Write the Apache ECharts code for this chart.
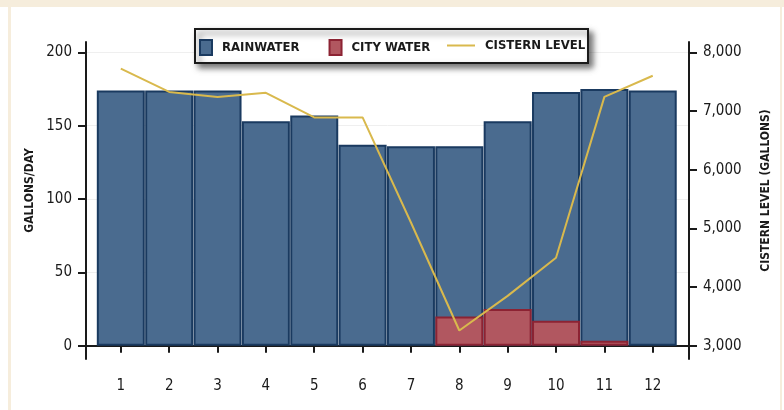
<!DOCTYPE html>
<html><head><meta charset="utf-8">
<script src="https://cdn.jsdelivr.net/npm/echarts@6/dist/echarts.min.js"></script>
<style>html,body{margin:0;padding:0;background:#fff}#c{width:784px;height:410px}</style>
</head><body><div id="c"></div>
<script>
const months = [1, 2, 3, 4, 5, 6, 7, 8, 9, 10, 11, 12];
const rainwater = [174, 174, 174, 153, 157, 137, 136, 136, 153, 173, 175, 174];
const cityWater = [null, null, null, null, null, null, null, 20, 25, 17, 3.5, null];
const cisternLevel = [7720, 7325, 7240, 7310, 6890, 6890, 5100, 3260, 3850, 4500, 7240, 7600];
const leftTicks = [0, 50, 100, 150, 200];
const rightTicks = [3000, 4000, 5000, 6000, 7000, 8000];

const F = '"DejaVu Sans Condensed", "Liberation Sans Narrow", sans-serif';
const ink = '#1a1a1a';
const chart = echarts.init(document.getElementById('c'), null, {renderer: 'canvas'});
const frame = '#f6eddc';

const option = {
  animation: false,
  backgroundColor: '#ffffff',
  grid: {left: 86, right: 95, top: 42, bottom: 51, containLabel: false},
  graphic: [
    {type: 'rect', z: 0, shape: {x: 0, y: 0, width: 784, height: 7}, style: {fill: frame}},
    {type: 'rect', z: 0, shape: {x: 8, y: 7, width: 3, height: 403}, style: {fill: frame}},
    {type: 'rect', z: 0, shape: {x: 780, y: 7, width: 2, height: 403}, style: {fill: frame}},
    {type: 'rect', z: 1, shape: {x: 195, y: 29, width: 393, height: 34},
     style: {fill: '#ffffff', stroke: ink, lineWidth: 2, shadowBlur: 6, shadowOffsetX: 4, shadowOffsetY: 4, shadowColor: 'rgba(0,0,0,0.55)'}}
  ],
  legend: [
    {data: ['RAINWATER', 'CITY WATER'], icon: 'rect', selectedMode: false, left: 199, top: 39, padding: 0,
     itemWidth: 12, itemHeight: 15, itemGap: 29,
     textStyle: {fontFamily: F, fontWeight: 'bold', fontSize: 13, color: ink, padding: [0, 0, 0, 5]}},
    {data: ['CISTERN LEVEL'], icon: 'path://M0,0 L28,0 L28,2 L0,2 Z', selectedMode: false, left: 447, top: 39, padding: 0,
     itemWidth: 28, itemHeight: 2,
     textStyle: {fontFamily: F, fontWeight: 'bold', fontSize: 13, color: ink, padding: [0, 0, 0, 5]}}
  ],
  xAxis: {
    type: 'value', min: 0.28, max: 12.75,
    axisLine: {show: true, lineStyle: {color: ink, width: 2}},
    axisTick: {show: true, customValues: months, length: 7, lineStyle: {color: ink, width: 2}},
    axisLabel: {customValues: months, margin: 20, color: ink, fontFamily: F, fontSize: 15},
    splitLine: {show: false}
  },
  yAxis: [
    {type: 'value', min: -9, max: 207, position: 'left',
     name: 'GALLONS/DAY', nameLocation: 'middle', nameRotate: 90, nameGap: 50, nameMoveOverlap: false,
     nameTextStyle: {fontFamily: F, fontWeight: 'bold', fontSize: 12, color: ink, padding: [0, 0, 0, 20]},
     axisLine: {show: true, lineStyle: {color: ink, width: 2}},
     axisTick: {show: true, customValues: leftTicks, length: 8, lineStyle: {color: ink, width: 2}},
     axisLabel: {customValues: leftTicks, margin: 14, color: ink, fontFamily: F, fontSize: 15},
     splitLine: {show: true, lineStyle: {color: '#efefef', width: 1}}},
    {type: 'value', min: 2775, max: 8175, position: 'right',
     name: 'CISTERN LEVEL (GALLONS)', nameLocation: 'middle', nameRotate: 90, nameGap: 71, nameMoveOverlap: false,
     nameTextStyle: {fontFamily: F, fontWeight: 'bold', fontSize: 12, color: ink, padding: [0, 0, 0, 20]},
     axisLine: {show: true, lineStyle: {color: ink, width: 2}},
     axisTick: {show: true, customValues: rightTicks, length: 8, lineStyle: {color: ink, width: 2}},
     axisLabel: {customValues: rightTicks, margin: 14, color: ink, fontFamily: F, fontSize: 15,
       formatter: v => v.toLocaleString('en-US')},
     splitLine: {show: false}}
  ],
  series: [
    {type: 'bar', name: 'RAINWATER', data: months.map((m, i) => [m, rainwater[i]]),
     barWidth: 48, barGap: '-100%', z: 2,
     itemStyle: {color: '#4a6b8f', borderColor: '#1a3a60', borderWidth: 2}},
    {type: 'bar', name: 'CITY WATER', data: months.map((m, i) => [m, cityWater[i]]),
     barWidth: 48, barGap: '-100%', z: 3,
     itemStyle: {color: '#b15760', borderColor: '#8c2333', borderWidth: 2}},
    {type: 'line', name: 'CISTERN LEVEL', yAxisIndex: 1, data: months.map((m, i) => [m, cisternLevel[i]]),
     symbol: 'none', z: 5, lineStyle: {color: '#d9b94d', width: 2}, itemStyle: {color: '#d9b94d'}}
  ]
};
chart.setOption(option);
</script>
</body></html>
